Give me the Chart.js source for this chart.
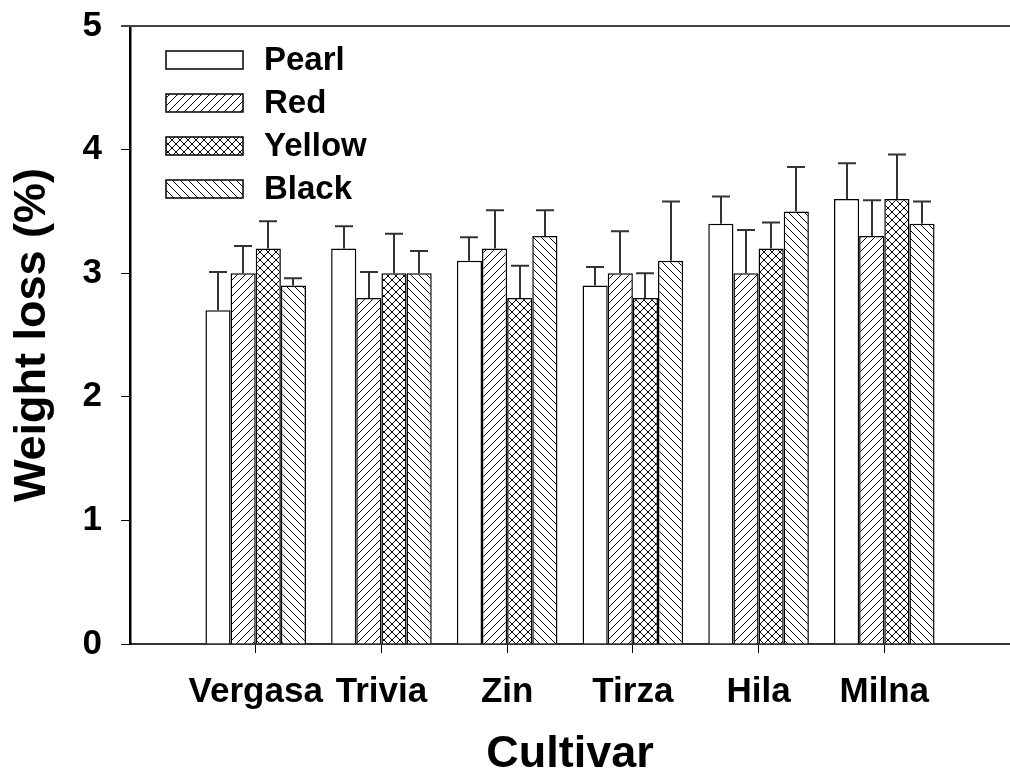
<!DOCTYPE html>
<html>
<head>
<meta charset="utf-8">
<script src="https://cdn.jsdelivr.net/npm/chart.js@4.4.0/dist/chart.umd.min.js"></script>
<style>
  html, body { margin: 0; padding: 0; background: #fff; }
  #wrap { width: 1010px; height: 774px; }
</style>
</head>
<body>
<div id="wrap"><canvas id="c" width="1010" height="774"></canvas></div>
<script>
// ---- data ----
const categories = ['Vergasa', 'Trivia', 'Zin', 'Tirza', 'Hila', 'Milna'];
const seriesNames = ['Pearl', 'Red', 'Yellow', 'Black'];
const pearlValues  = [2.7, 3.2, 3.1, 2.9, 3.4, 3.6];
const pearlErrors  = [0.31, 0.18, 0.19, 0.15, 0.22, 0.29];
const redValues    = [3.0, 2.8, 3.2, 3.0, 3.0, 3.3];
const redErrors    = [0.22, 0.21, 0.31, 0.34, 0.35, 0.29];
const yellowValues = [3.2, 3.0, 2.8, 2.8, 3.2, 3.6];
const yellowErrors = [0.22, 0.32, 0.26, 0.20, 0.21, 0.36];
const blackValues  = [2.9, 3.0, 3.3, 3.1, 3.5, 3.4];
const blackErrors  = [0.06, 0.18, 0.21, 0.48, 0.36, 0.18];
const yTicks = [0, 1, 2, 3, 4, 5];

// ---- patterns ----
function makePattern(kind) {
  if (kind === 'none') return '#ffffff';
  const s = 8;
  const c = document.createElement('canvas');
  c.width = s; c.height = s;
  const g = c.getContext('2d');
  g.fillStyle = '#fff';
  g.fillRect(0, 0, s, s);
  g.strokeStyle = '#000';
  g.lineWidth = 1;
  const fwd = () => { // "/"
    g.beginPath();
    g.moveTo(-1, s + 1); g.lineTo(s + 1, -1);
    g.moveTo(-1, 1); g.lineTo(1, -1);
    g.moveTo(s - 1, s + 1); g.lineTo(s + 1, s - 1);
    g.stroke();
  };
  const back = () => { // "\"
    g.beginPath();
    g.moveTo(-1, -1); g.lineTo(s + 1, s + 1);
    g.moveTo(s - 1, -1); g.lineTo(s + 1, 1);
    g.moveTo(-1, s - 1); g.lineTo(1, s + 1);
    g.stroke();
  };
  if (kind === 'fwd') fwd();
  if (kind === 'back') back();
  if (kind === 'cross') { fwd(); back(); }
  return g.createPattern(c, 'repeat');
}

const ctx = document.getElementById('c').getContext('2d');
const fills = [makePattern('none'), makePattern('fwd'), makePattern('cross'), makePattern('back')];
const valueSets = [pearlValues, redValues, yellowValues, blackValues];
const errorSets = [pearlErrors, redErrors, yellowErrors, blackErrors];

const datasets = seriesNames.map((name, k) => ({
  label: name,
  data: valueSets[k].map((v, i) => ({ x: i + 1, y: v })),
  errors: errorSets[k],
  backgroundColor: fills[k],
  borderColor: '#000',
  borderWidth: 1.5,
  categoryPercentage: 0.8,
  barPercentage: 1.0
}));

const FONT = 'Liberation Sans, Arial, Helvetica, sans-serif';

const errorBarPlugin = {
  id: 'errorBars',
  afterDatasetsDraw(chart) {
    const c = chart.ctx;
    const yScale = chart.scales.y;
    c.save();
    c.strokeStyle = '#333';
    c.lineWidth = 2;
    chart.data.datasets.forEach((ds, di) => {
      const meta = chart.getDatasetMeta(di);
      meta.data.forEach((bar, i) => {
        const v = ds.data[i].y;
        const top = yScale.getPixelForValue(v + ds.errors[i]);
        const x = Math.round(bar.x);
        c.beginPath();
        c.moveTo(x, bar.y);
        c.lineTo(x, top);
        c.moveTo(x - 9, top);
        c.lineTo(x + 9, top);
        c.stroke();
      });
    });
    c.restore();
  }
};

const framePlugin = {
  id: 'frameAndLegend',
  afterDraw(chart) {
    const c = chart.ctx;
    const a = chart.chartArea;
    c.save();
    // top frame line
    c.strokeStyle = '#444';
    c.lineWidth = 2;
    c.beginPath();
    c.moveTo(a.left - 9, a.top);
    c.lineTo(a.right, a.top);
    c.stroke();
    // legend
    const bx = a.left + 36, by0 = a.top + 25, bw = 77, bh = 18, step = 43;
    c.font = 'bold 33px ' + FONT;
    c.textBaseline = 'middle';
    c.textAlign = 'left';
    chart.data.datasets.forEach((ds, k) => {
      const y = by0 + k * step;
      c.fillStyle = ds.backgroundColor;
      c.fillRect(bx, y, bw, bh);
      c.strokeStyle = '#000';
      c.lineWidth = 1.5;
      c.strokeRect(bx, y, bw, bh);
      c.fillStyle = '#000';
      c.fillText(ds.label, bx + bw + 21, y + bh / 2 + 1);
    });
    c.restore();
  }
};

new Chart(ctx, {
  type: 'bar',
  data: { datasets },
  plugins: [errorBarPlugin, framePlugin],
  options: {
    responsive: false,
    devicePixelRatio: 1,
    animation: false,
    layout: { padding: { top: 26, right: 0, left: 0, bottom: 0 } },
    plugins: { legend: { display: false }, tooltip: { enabled: false } },
    scales: {
      x: {
        type: 'linear',
        min: 0,
        max: 7,
        offset: false,
        afterBuildTicks(scale) {
          scale.ticks = categories.map((_, i) => ({ value: i + 1 }));
        },
        afterFit(scale) {
          scale.height = 130;
          scale.paddingLeft = 0; scale.paddingRight = 0;
        },
        ticks: {
          autoSkip: false,
          maxRotation: 0,
          minRotation: 0,
          padding: 18,
          color: '#000',
          font: { family: FONT, size: 35, weight: 'bold' },
          callback: (v) => categories[v - 1] || ''
        },
        grid: { display: true, offset: false, drawOnChartArea: false, drawTicks: true, tickLength: 9, color: '#000', lineWidth: 1 },
        border: { display: true, color: '#333', width: 2 },
        title: {
          display: true,
          text: 'Cultivar',
          color: '#000',
          font: { family: FONT, size: 45, weight: 'bold', lineHeight: 0.86 },
          padding: { top: 0, bottom: 0 }
        }
      },
      y: {
        type: 'linear',
        min: 0,
        max: 5,
        afterBuildTicks(scale) {
          scale.ticks = yTicks.map(v => ({ value: v }));
        },
        afterFit(scale) {
          scale.width = 130;
          scale.paddingTop = 0; scale.paddingBottom = 0;
        },
        ticks: {
          padding: 19,
          color: '#000',
          font: { family: FONT, size: 35, weight: 'bold' }
        },
        grid: { display: true, drawOnChartArea: false, drawTicks: true, tickLength: 9, color: '#000', lineWidth: 1 },
        border: { display: true, color: '#000', width: 2.5 },
        title: {
          display: true,
          text: 'Weight loss (%)',
          color: '#000',
          font: { family: FONT, size: 45, weight: 'bold', lineHeight: 0.86 },
          padding: { top: 13, bottom: 0 }
        }
      }
    }
  }
});
</script>
</body>
</html>
